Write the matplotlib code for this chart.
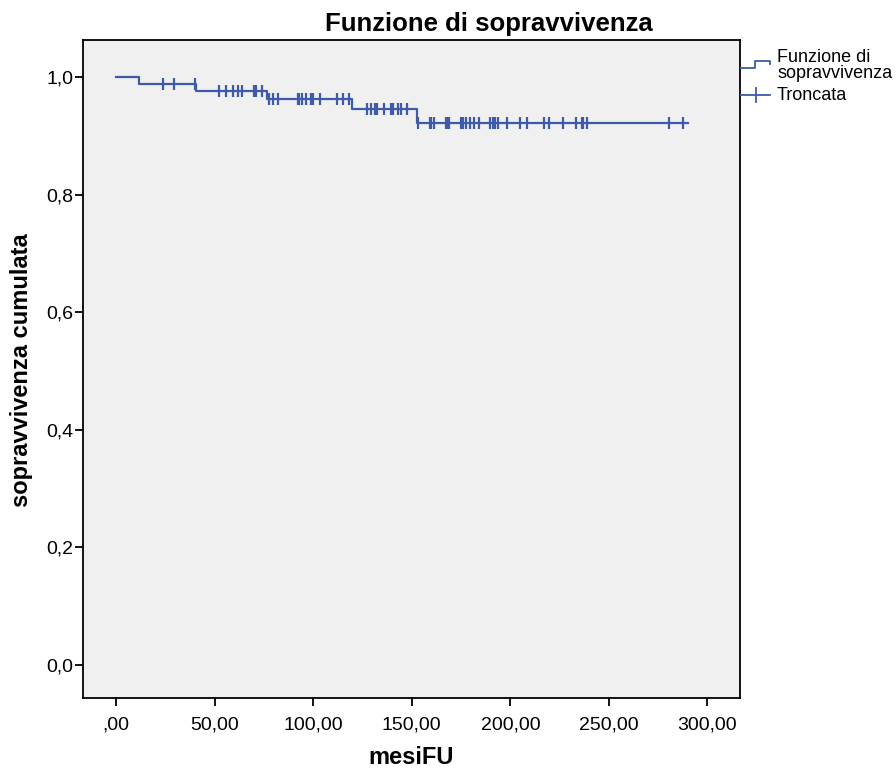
import matplotlib.pyplot as plt
import numpy as np
from matplotlib.lines import Line2D

plt.rcParams['font.family'] = ['Liberation Sans', 'DejaVu Sans']

# Kaplan-Meier steps
event_times = [11.8, 40.5, 76.5, 119.7, 152.7]
survival = [1.0, 0.989, 0.977, 0.963, 0.946, 0.922]
last_time = 290.2

# censored follow-up times (mesi)
censored = [23.7, 29.3, 39.8,
            52.0, 55.9, 59.3, 61.6, 64.0, 70.2, 71.1, 73.8,
            77.4, 79.7, 82.1, 92.1, 92.6, 94.3, 96.4, 98.9, 100.1, 103.6,
            112.1, 114.9, 118.2,
            127.3, 129.4, 131.4, 132.1, 136.1, 139.7, 140.5, 143.1, 144.3, 147.8,
            153.2, 159.0, 159.9, 161.2, 167.3, 168.0, 169.0, 175.2, 176.1, 177.6,
            179.4, 181.5, 183.9, 189.5, 191.2, 192.3, 193.5, 198.1, 204.9, 208.6,
            217.0, 219.6, 226.7, 233.5, 236.5, 237.1, 239.1, 280.7, 287.5]

x_ticks = [0, 50, 100, 150, 200, 250, 300]
x_labels = [',00', '50,00', '100,00', '150,00', '200,00', '250,00', '300,00']
y_ticks = [0.0, 0.2, 0.4, 0.6, 0.8, 1.0]
y_labels = ['0,0', '0,2', '0,4', '0,6', '0,8', '1,0']

blue = '#3E5BAA'

fig = plt.figure(figsize=(8.96, 7.69), dpi=100)
W, H = 896, 769
ax = fig.add_axes([83 / W, 1 - 698 / H, (740 - 83) / W, (698 - 40) / H])
ax.set_facecolor('#F0F0F0')

step_x = [0] + event_times + [last_time]
step_y = survival + [survival[-1]]
ax.step(step_x, step_y, where='post', color=blue, lw=1.6)

idx = np.searchsorted(event_times, censored, side='right')
ax.plot(censored, np.array(survival)[idx], ls='none', marker='|',
        ms=8.5, mew=1.6, color=blue)

ax.set_xlim(-16.8, 316.5)
ax.set_ylim(-0.056, 1.063)
ax.set_xticks(x_ticks)
ax.set_xticklabels(x_labels)
ax.set_yticks(y_ticks)
ax.set_yticklabels(y_labels)
ax.tick_params(direction='out', length=6, width=1.3, labelsize=14,
               colors='black')
ax.tick_params(axis='y', pad=1)
ax.tick_params(axis='x', pad=7)
for s in ax.spines.values():
    s.set_linewidth(1.3)
    s.set_color('black')

fig.text(489 / W, 1 - 24 / H, 'Funzione di sopravvivenza', ha='center',
         va='center', fontsize=18.5, fontweight='bold')
fig.text(411 / W, 1 - 757 / H, 'mesiFU', ha='center', va='center',
         fontsize=17, fontweight='bold')
fig.text(22 / W, 1 - 370 / H, 'sopravvivenza cumulata', ha='center',
         va='center', rotation=90, fontsize=17, fontweight='bold')

# legend drawn at the right of the plot
def fx(px):
    return px / W

def fy(py):
    return 1 - py / H

fig.add_artist(Line2D([fx(741), fx(755), fx(755), fx(770), fx(770)],
                      [fy(68), fy(68), fy(60.5), fy(60.5), fy(64)],
                      color=blue, lw=1.3))
fig.add_artist(Line2D([fx(741), fx(770)], [fy(95), fy(95)],
                      color=blue, lw=1.3))
fig.add_artist(Line2D([fx(756), fx(756)], [fy(88), fy(102)],
                      color=blue, lw=1.3))
fig.text(fx(777), fy(58), 'Funzione di', ha='left', va='center', fontsize=13)
fig.text(fx(777), fy(74), 'sopravvivenza', ha='left', va='center', fontsize=13)
fig.text(fx(777), fy(96), 'Troncata', ha='left', va='center', fontsize=13)

fig.savefig('out.png', dpi=100)
